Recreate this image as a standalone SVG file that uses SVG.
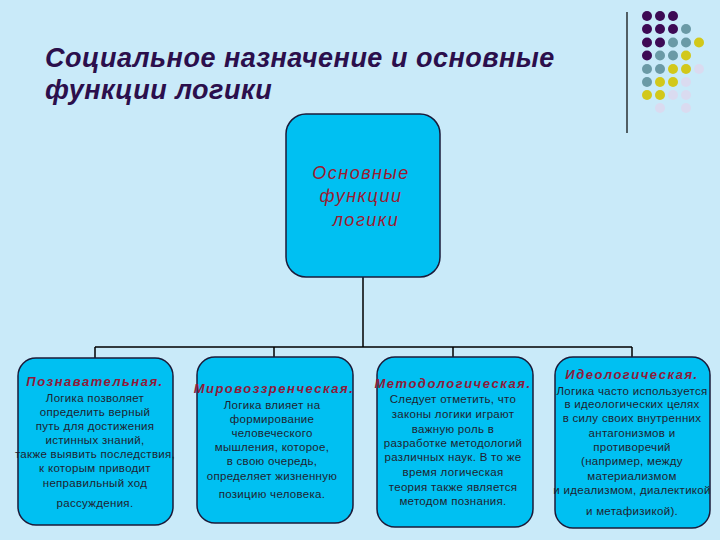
<svg xmlns="http://www.w3.org/2000/svg" width="720" height="540" viewBox="0 0 720 540">
<style>
.bg{fill:#C9EAF9}
.box{fill:#00C0F2;stroke:#1B1B3A;stroke-width:1.5}
.conn{stroke:#000;stroke-width:1.5;fill:none}
.title{font-family:"Liberation Sans",Arial,sans-serif;font-weight:bold;font-style:italic;font-size:27px;fill:#2B0F4C;letter-spacing:0.5px}
.main{font-family:"Liberation Sans",Arial,sans-serif;font-style:italic;font-size:18px;fill:#9B1B30;letter-spacing:1.5px;text-anchor:middle}
.h{font-family:"Liberation Sans",Arial,sans-serif;font-weight:bold;font-style:italic;font-size:13px;fill:#8E1A3A;letter-spacing:1.5px;text-anchor:middle}
.b{font-family:"Liberation Sans",Arial,sans-serif;font-size:11.5px;fill:#1F1F30;letter-spacing:0.3px;text-anchor:middle}
.p{fill:#3D0A55}.t{fill:#6A9AA6}.y{fill:#D2C81A}.l{fill:#DADBF0}
</style>
<rect class="bg" x="0" y="0" width="720" height="540"/>
<g id="decor">
<line x1="627" y1="12" x2="627" y2="133" stroke="#000" stroke-width="1.2"/>
<circle class="p" cx="647" cy="16" r="5"/><circle class="p" cx="660" cy="16" r="5"/><circle class="p" cx="673" cy="16" r="5"/>
<circle class="p" cx="647" cy="29" r="5"/><circle class="p" cx="660" cy="29" r="5"/><circle class="p" cx="673" cy="29" r="5"/><circle class="t" cx="686" cy="29" r="5"/>
<circle class="p" cx="647" cy="42.5" r="5"/><circle class="p" cx="660" cy="42.5" r="5"/><circle class="t" cx="673" cy="42.5" r="5"/><circle class="t" cx="686" cy="42.5" r="5"/><circle class="y" cx="699" cy="42.5" r="5"/>
<circle class="p" cx="647" cy="55.5" r="5"/><circle class="t" cx="660" cy="55.5" r="5"/><circle class="t" cx="673" cy="55.5" r="5"/><circle class="y" cx="686" cy="55.5" r="5"/>
<circle class="t" cx="647" cy="69" r="5"/><circle class="t" cx="660" cy="69" r="5"/><circle class="y" cx="673" cy="69" r="5"/><circle class="y" cx="686" cy="69" r="5"/><circle class="l" cx="699" cy="69" r="5"/>
<circle class="t" cx="647" cy="82" r="5"/><circle class="y" cx="660" cy="82" r="5"/><circle class="y" cx="673" cy="82" r="5"/><circle class="l" cx="686" cy="82" r="5"/>
<circle class="y" cx="647" cy="95" r="5"/><circle class="y" cx="660" cy="95" r="5"/><circle class="l" cx="673" cy="95" r="5"/><circle class="l" cx="686" cy="95" r="5"/>
<circle class="l" cx="660" cy="108" r="5"/><circle class="l" cx="686" cy="108" r="5"/>
</g>
<g id="title">
<text class="title" x="45" y="67">Социальное назначение и основные</text>
<text class="title" x="45" y="99">функции логики</text>
</g>
<g id="connectors">
<path class="conn" d="M363 277 V347 M95 347 H632 M95 347 V358 M274 347 V357 M453 347 V357 M632 347 V357"/>
</g>
<g id="main">
<rect class="box" x="286" y="114" width="154" height="163" rx="20"/>
<text class="main" x="361" y="179">Основные</text>
<text class="main" x="361" y="202">функции</text>
<text class="main" x="366" y="226">логики</text>
</g>
<g id="n1">
<rect class="box" x="18" y="358" width="155" height="167" rx="18"/>
<text class="h" x="95" y="386">Познавательная.</text>
<text class="b" x="95" y="402">Логика позволяет</text>
<text class="b" x="95" y="416">определить верный</text>
<text class="b" x="95" y="430">путь для достижения</text>
<text class="b" x="95" y="444">истинных знаний,</text>
<text class="b" x="95" y="458">также выявить последствия,</text>
<text class="b" x="95" y="472">к которым приводит</text>
<text class="b" x="95" y="487">неправильный ход</text>
<text class="b" x="95" y="507">рассуждения.</text>
</g>
<g id="n2">
<rect class="box" x="197" y="357" width="156" height="166" rx="18"/>
<text class="h" x="274" y="393">Мировоззренческая.</text>
<text class="b" x="272" y="409">Логика влияет на</text>
<text class="b" x="272" y="423">формирование</text>
<text class="b" x="272" y="437">человеческого</text>
<text class="b" x="272" y="451">мышления, которое,</text>
<text class="b" x="272" y="465">в свою очередь,</text>
<text class="b" x="272" y="480">определяет жизненную</text>
<text class="b" x="272" y="498">позицию человека.</text>
</g>
<g id="n3">
<rect class="box" x="377" y="357" width="156" height="170" rx="18"/>
<text class="h" x="453" y="388">Методологическая.</text>
<text class="b" x="453" y="403">Следует отметить, что</text>
<text class="b" x="453" y="418">законы  логики играют</text>
<text class="b" x="453" y="433">важную роль в</text>
<text class="b" x="453" y="447">разработке методологий</text>
<text class="b" x="453" y="461">различных наук. В то же</text>
<text class="b" x="453" y="476">время логическая</text>
<text class="b" x="453" y="491">теория также является</text>
<text class="b" x="453" y="505">методом познания.</text>
</g>
<g id="n4">
<rect class="box" x="555" y="357" width="155" height="171" rx="18"/>
<text class="h" x="632" y="379">Идеологическая.</text>
<text class="b" x="632" y="395">Логика часто используется</text>
<text class="b" x="632" y="408">в идеологических целях</text>
<text class="b" x="632" y="422">в силу своих внутренних</text>
<text class="b" x="632" y="437">антагонизмов и</text>
<text class="b" x="632" y="451">противоречий</text>
<text class="b" x="632" y="465">(например, между</text>
<text class="b" x="632" y="480">материализмом</text>
<text class="b" x="632" y="494">и идеализмом, диалектикой</text>
<text class="b" x="632" y="515">и метафизикой).</text>
</g>
</svg>
